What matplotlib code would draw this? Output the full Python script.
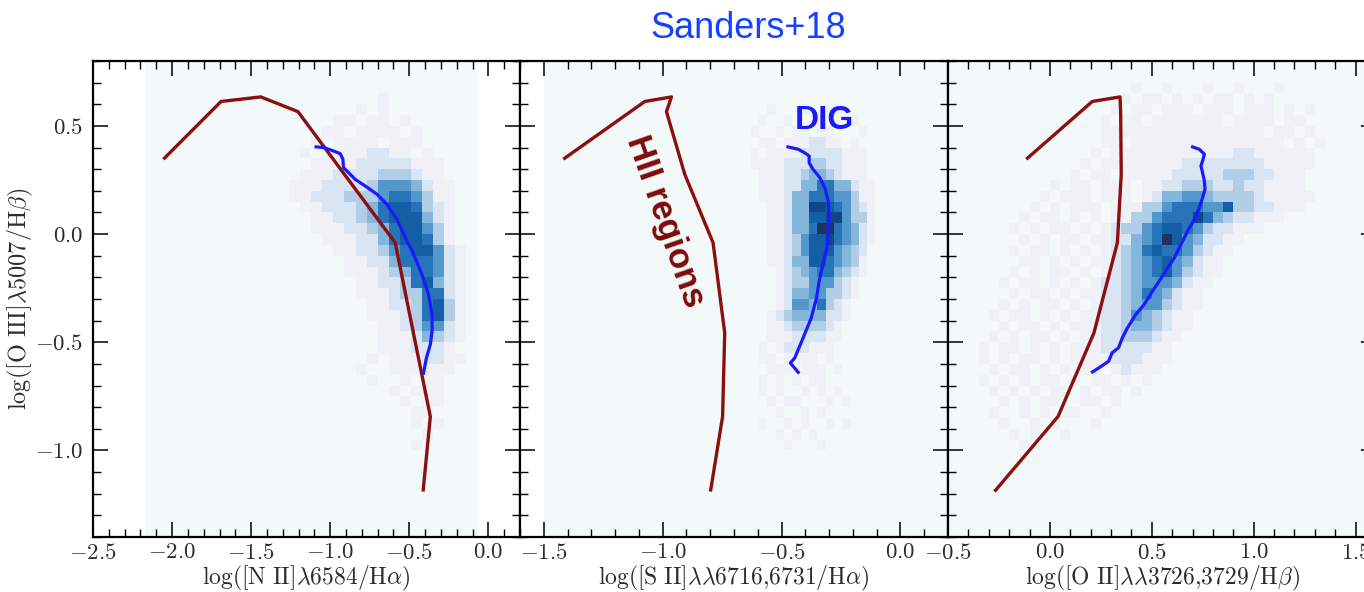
import matplotlib
matplotlib.use("Agg")
import matplotlib.pyplot as plt
import numpy as np
from matplotlib.colors import ListedColormap, BoundaryNorm
from matplotlib.ticker import MultipleLocator

# ── data ────────────────────────────────────────────────────────────────────
# HII-region model track (same y in all three panels)
MODEL_Y = [0.346, 0.613, 0.634, 0.566, 0.276, -0.040, -0.457, -0.843, -1.190]
N2_MODEL_X = [-2.055, -1.690, -1.439, -1.204, -0.910, -0.589, -0.474, -0.367, -0.413]
S2_MODEL_X = [-1.418, -1.075, -0.963, -0.984, -0.907, -0.788, -0.739, -0.748, -0.799]
O2_MODEL_X = [-0.116, 0.208, 0.344, 0.347, 0.350, 0.331, 0.216, 0.040, -0.272]

# DIG running median
N2_DIG_X = [-1.089, -1.042, -0.979, -0.937, -0.920, -0.916, -0.884, -0.842, -0.778, -0.704,
            -0.641, -0.578, -0.525, -0.472, -0.420, -0.378, -0.356, -0.356, -0.367, -0.392, -0.410]
N2_DIG_Y = [0.403, 0.400, 0.384, 0.372, 0.346, 0.307, 0.284, 0.253, 0.222, 0.184,
            0.137, 0.068, -0.017, -0.094, -0.187, -0.279, -0.372, -0.449, -0.510, -0.573, -0.642]
S2_DIG_X = [-0.473, -0.430, -0.403, -0.384, -0.384, -0.368, -0.339, -0.318, -0.304, -0.300, -0.304,
            -0.309, -0.326, -0.342, -0.353, -0.375, -0.398, -0.421, -0.445, -0.463, -0.445, -0.430]
S2_DIG_Y = [0.403, 0.392, 0.376, 0.361, 0.330, 0.300, 0.261, 0.214, 0.153, 0.075, -0.002,
            -0.063, -0.140, -0.218, -0.295, -0.387, -0.449, -0.511, -0.573, -0.596, -0.619, -0.639]
O2_DIG_X = [0.700, 0.733, 0.758, 0.749, 0.741, 0.749, 0.758, 0.761, 0.749, 0.733, 0.709, 0.676,
            0.643, 0.610, 0.577, 0.536, 0.503, 0.462, 0.421, 0.380, 0.355, 0.337, 0.305, 0.288,
            0.239, 0.209]
O2_DIG_Y = [0.403, 0.392, 0.369, 0.338, 0.315, 0.284, 0.245, 0.207, 0.168, 0.122, 0.068, 0.014,
            -0.048, -0.110, -0.156, -0.218, -0.264, -0.326, -0.372, -0.434, -0.480, -0.525, -0.549,
            -0.588, -0.619, -0.637]

# 2D histogram levels (0 = empty .. 9 = densest), rows from top to bottom
N2_HIST = [
    "0000000000100000000",
    "0000000010100000000",
    "0000001101101000000",
    "0000011011110100000",
    "0000101111011100000",
    "0001011112211010000",
    "0000111122222111000",
    "0001112222333211000",
    "0011122223555421100",
    "0011222333566531100",
    "0001122234677632100",
    "0000112234677742100",
    "0000111223467753100",
    "0000011122467763100",
    "0000001122356775210",
    "0000000112246665210",
    "0000000111234665210",
    "0000000011223674210",
    "0000000011123366210",
    "0000000001122367310",
    "0000000001112367310",
    "0000000000112355210",
    "0000000000111243210",
    "0000000000111222100",
    "0000000001011122110",
    "0000000010011111100",
    "0000000001001011000",
    "0000000000010111000",
    "0000000000001011000",
    "0000000000000110000",
    "0000000000000101000",
    "0000000000000010000",
    "0000000000000100000",
]
S2_HIST = [
    "000010001000100000",
    "000100100010001000",
    "001001011011000100",
    "000110111221101000",
    "001011112222211100",
    "001111222332211100",
    "000111223443211100",
    "000111224466442110",
    "000111244666553110",
    "000011244887653210",
    "000011244778853310",
    "000011244699654210",
    "000011235778654210",
    "000011235777543200",
    "000011244776543100",
    "000001234566432100",
    "000001233555321000",
    "000001244553321000",
    "000001255463210000",
    "000012344442210000",
    "000011233332100000",
    "000011122221100000",
    "000101222111000000",
    "000110111101000000",
    "000011101110100000",
    "000101010110000000",
    "000101001010100000",
    "000010110001010000",
    "000001001010000000",
    "000100101001010000",
    "000001010100000000",
    "000000100010000000",
]
O2_HIST = [
    "000000000000000010010001001000100000",
    "000000000000000101101010110101000000",
    "000000000000001011011101110111010100",
    "000000000000010110111111101111011000",
    "000000000000011111111111111110110100",
    "000000000000011011111111111111101010",
    "000000000000101111111111112211111100",
    "000000000001011111111222222221111100",
    "000000000010110111112222233322111000",
    "00000000" + "10110111011" + "22333223221111000",
    "0000000" + "10111011101" + "244554333321111100",
    "000000" + "10101110111" + "3356665573322111000",
    "00000" + "10110101011" + "33566686432211100000",
    "0000" + "1010110101" + "2335677653221110000000",
    "0000" + "0101011011" + "2245697542211000000000",
    "0000" + "1011010101" + "2346766532110000000000",
    "0000" + "0110101011" + "2345675421100000000000",
    "0000" + "1010110101" + "2345675321100000000000",
    "000" + "1011010101" + "22345554211000000000000",
    "000" + "0101101011" + "22346542110000000000000",
    "000" + "1010110101" + "22345532110000000000000",
    "00" + "1011010101" + "122354321100000000000000",
    "00" + "0101101011" + "122344321100000000000000",
    "00" + "1010110101" + "122333211000000000000000",
    "01" + "0110101011" + "122222110000000000000000",
    "010101101011" + "112221110000000000000000",
    "001011010101" + "101211100000000000000000",
    "010101011010" + "110101000000000000000000",
    "001010101101" + "011010000000000000000000",
    "000101011001" + "101000000000000000000000",
    "001001010110" + "010000000000000000000000",
    "000100101000" + "100000000000000000000000",
    "000010100100" + "000000000000000000000000",
    "000001000000" + "000000000000000000000000",
]

XLABELS = [
    r"$\log([\mathrm{N\ II}]\lambda6584/\mathrm{H}\alpha)$",
    r"$\log([\mathrm{S\ II}]\lambda\lambda6716{,}6731/\mathrm{H}\alpha)$",
    r"$\log([\mathrm{O\ II}]\lambda\lambda3726{,}3729/\mathrm{H}\beta)$",
]
YLABEL = r"$\log([\mathrm{O\ III}]\lambda5007/\mathrm{H}\beta)$"

# ── style ───────────────────────────────────────────────────────────────────
plt.rcParams["font.family"] = "serif"
plt.rcParams["font.serif"] = ["cmr10", "DejaVu Serif"]
plt.rcParams["mathtext.fontset"] = "cm"
plt.rcParams["axes.formatter.use_mathtext"] = True
plt.rcParams["axes.unicode_minus"] = True

BG = "#f3f9f9"
LEVEL_COLORS = [BG, "#eff1f7", "#d9e5f2", "#b2cde6", "#84b5db", "#5398cc",
                "#2774b8", "#145ea6", "#0f4888", "#1c3463"]
CMAP = ListedColormap(LEVEL_COLORS)
NORM = BoundaryNorm(np.arange(-0.5, 10.5, 1), CMAP.N)
RED = "#8b0f0f"
BLUE = "#1a1aff"
TEXT = "#2b2b2b"

W, H = 1364, 592


def _hist(ax, rows, x0, y_top, dx, dy):
    width = max(len(r) for r in rows)
    counts = np.array([[int(c) for c in r.ljust(width, "0")] for r in rows])
    xe = x0 + dx * np.arange(counts.shape[1] + 1)
    ye = y_top - dy * np.arange(counts.shape[0] + 1)
    ax.pcolormesh(xe, ye, counts, cmap=CMAP, norm=NORM, shading="flat",
                  zorder=1, rasterized=True)


def _style(ax, xlim, xlabel, left_labels):
    ax.set_xlim(*xlim)
    ax.set_ylim(-1.4, 0.8)
    ax.xaxis.set_major_locator(MultipleLocator(0.5))
    ax.xaxis.set_minor_locator(MultipleLocator(0.1))
    ax.yaxis.set_major_locator(MultipleLocator(0.5))
    ax.yaxis.set_minor_locator(MultipleLocator(0.1))
    ax.tick_params(which="both", direction="in", top=True, right=True,
                   color="black", labelcolor=TEXT, labelsize=16.5)
    ax.tick_params(which="major", length=10.5, width=1.1)
    ax.tick_params(which="minor", length=5.5, width=1.0)
    ax.tick_params(axis="x", pad=4)
    ax.tick_params(axis="y", pad=7, labelleft=left_labels)
    for s in ax.spines.values():
        s.set_linewidth(1.6)
    ax.set_xlabel(xlabel, fontsize=17, color=TEXT, labelpad=1)


def _axes(fig, left_px, width_px=428):
    return fig.add_axes([left_px / W, 55 / H, width_px / W, 476 / H])


fig = plt.figure(figsize=(W / 100, H / 100), dpi=100)

ax1 = _axes(fig, 93, 427)
ax2 = _axes(fig, 520)
ax3 = _axes(fig, 948)

# backgrounds of the histogram ranges
ax1.axvspan(-2.17, -0.07, color=BG, lw=0, zorder=0)
ax2.axvspan(-1.50, 0.25, color=BG, lw=0, zorder=0)
ax3.axvspan(-0.55, 1.70, color=BG, lw=0, zorder=0)

_hist(ax1, N2_HIST, -1.40, 0.65, 0.07, 0.05)
_hist(ax2, S2_HIST, -0.70, 0.60, 0.035, 0.05)
_hist(ax3, O2_HIST, -0.40, 0.70, 0.05, 0.05)

for ax, mx, dx, dy in [(ax1, N2_MODEL_X, N2_DIG_X, N2_DIG_Y),
                       (ax2, S2_MODEL_X, S2_DIG_X, S2_DIG_Y),
                       (ax3, O2_MODEL_X, O2_DIG_X, O2_DIG_Y)]:
    ax.plot(mx, MODEL_Y, color=RED, lw=2.4, zorder=3, solid_capstyle="butt")
    ax.plot(dx, dy, color=BLUE, lw=2.3, zorder=4)

_style(ax1, (-2.5, 0.2), XLABELS[0], True)
_style(ax2, (-1.6, 0.2), XLABELS[1], False)
_style(ax3, (-0.5, 1.6), XLABELS[2], False)
ax1.set_ylabel(YLABEL, fontsize=17.5, color=TEXT, labelpad=0)

sans = ["Liberation Sans", "DejaVu Sans"]
ax2.text(-0.318, 0.523, "DIG", color=BLUE, fontsize=24, fontweight="bold",
         family=sans, ha="center", va="center", zorder=5)
ax2.text(-0.991, 0.06, "HII regions", color="#7d0b0b", fontsize=25,
         fontweight="bold", family=sans, rotation=-70.7,
         rotation_mode="anchor", ha="center", va="center", zorder=5)

fig.text(748 / W, 1 - 28 / H, "Sanders+18", color="#1540ff", fontsize=26,
         family=sans, ha="center", va="center")

fig.savefig("out.png", dpi=100, facecolor="white")
